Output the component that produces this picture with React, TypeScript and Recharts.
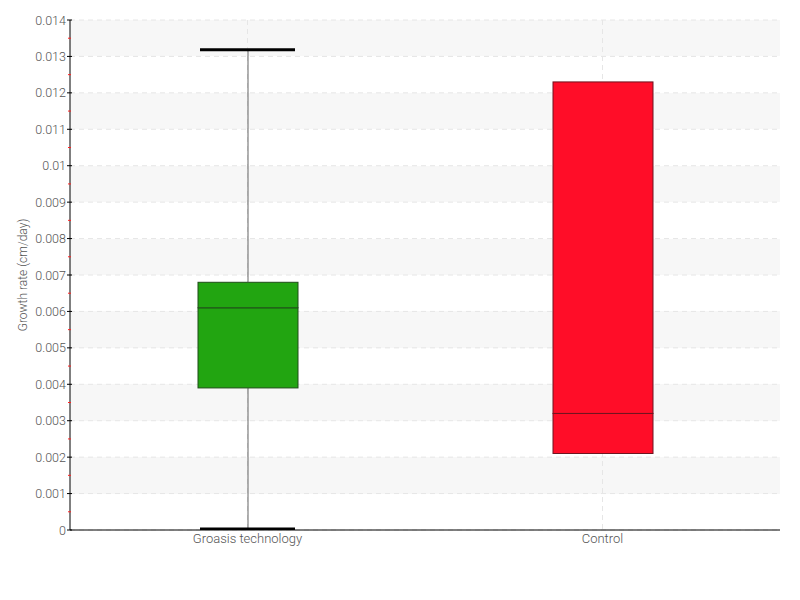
import React from 'react';
import { ComposedChart, Bar, XAxis, YAxis, CartesianGrid } from 'recharts';

const categories = ['Groasis technology', 'Control'];
const minValues = [0.00003, 0.0021];
const q1Values = [0.0039, 0.0021];
const medianValues = [0.0061, 0.0032];
const q3Values = [0.0068, 0.0123];
const maxValues = [0.01318, 0.0123];
const boxColors = ['#22a511', '#ff0d28'];
const boxStrokes = ['#1f4d18', '#6e1420'];

const majorTicks = [0, 0.001, 0.002, 0.003, 0.004, 0.005, 0.006, 0.007, 0.008, 0.009, 0.01, 0.011, 0.012, 0.013, 0.014];
const minorTicks = [0.0005, 0.0015, 0.0025, 0.0035, 0.0045, 0.0055, 0.0065, 0.0075, 0.0085, 0.0095, 0.0105, 0.0115, 0.0125, 0.0135];
const allTicks = [...majorTicks, ...minorTicks].sort((a, b) => a - b);

const data = categories.map((name, i) => ({
  name,
  idx: i,
  base: minValues[i],
  lowWhisker: q1Values[i] - minValues[i],
  boxLow: medianValues[i] - q1Values[i],
  boxHigh: q3Values[i] - medianValues[i],
  highWhisker: maxValues[i] - q3Values[i],
}));

const FONT = 'Roboto, sans-serif';

const EmptyShape = () => <g />;

const LowWhiskerShape = (props: any) => {
  const { x, y, width, height } = props;
  if (!height || height <= 0.5) return <g />;
  const cx = x + width / 2;
  return (
    <g>
      <line x1={cx} x2={cx} y1={y} y2={y + height} stroke="#666" strokeWidth={1} />
      <line x1={x + 2} x2={x + width - 3} y1={y + height} y2={y + height} stroke="#000" strokeWidth={3} />
    </g>
  );
};

const HighWhiskerShape = (props: any) => {
  const { x, y, width, height } = props;
  if (!height || height <= 0.5) return <g />;
  const cx = x + width / 2;
  return (
    <g>
      <line x1={cx} x2={cx} y1={y} y2={y + height} stroke="#666" strokeWidth={1} />
      <line x1={x + 2} x2={x + width - 3} y1={y} y2={y} stroke="#000" strokeWidth={3} />
    </g>
  );
};

const BoxShape = (props: any) => {
  const { x, y, width, height, payload } = props;
  if (!height || height <= 0) return <g />;
  const i = payload.idx;
  return (
    <rect x={x} y={y} width={width} height={height} fill={boxColors[i]} stroke={boxStrokes[i]} strokeWidth={1} />
  );
};

const YTick = (props: any) => {
  const { x, y, payload } = props;
  const v = payload.value;
  const isMajor = majorTicks.some((t) => Math.abs(t - v) < 1e-9);
  const axisX = x + 5;
  if (!isMajor) {
    return <line x1={axisX - 2} x2={axisX + 1} y1={y} y2={y} stroke="#ff2020" strokeWidth={1} />;
  }
  return (
    <g>
      <line x1={axisX - 3} x2={axisX + 2} y1={y} y2={y} stroke="#000" strokeWidth={1} />
      <text x={axisX - 4} y={y} textAnchor="end" dominantBaseline="central" fontFamily={FONT} fontSize={12.5} fontWeight={300} fill="#555">
        {String(v)}
      </text>
    </g>
  );
};

const YLabel = (props: any) => {
  const vb = props.viewBox || { y: 20, height: 510 };
  const cy = vb.y + vb.height / 2;
  return (
    <text x={23} y={cy} transform={`rotate(-90, 23, ${cy})`} textAnchor="middle" dominantBaseline="central" fontFamily={FONT} fontSize={12} fontWeight={300} fill="#555">
      Growth rate (cm/day)
    </text>
  );
};

export default function App() {
  return (
    <div style={{ position: 'absolute', left: 0, top: 0, width: 800, height: 600, background: '#fff' }}>
      <ComposedChart width={800} height={600} data={data} margin={{ top: 20, right: 20, bottom: 40, left: 0 }}>
        <CartesianGrid
          strokeDasharray="5 4"
          stroke="#e6e6e6"
          horizontalValues={majorTicks}
          verticalValues={categories}
          horizontalFill={['#f7f7f7', '#ffffff']}
          fillOpacity={1}
        />
        <XAxis
          dataKey="name"
          height={30}
          axisLine={{ stroke: '#000' }}
          tickLine={false}
          tickSize={2}
          tickMargin={2}
          tick={{ fontFamily: FONT, fontSize: 13, fontWeight: 300, fill: '#555' }}
        />
        <YAxis
          width={70}
          domain={[0, 0.014]}
          ticks={allTicks}
          interval={0}
          tickLine={false}
          tickSize={3}
          tickMargin={2}
          axisLine={{ stroke: '#000' }}
          tick={<YTick />}
          label={<YLabel />}
          allowDataOverflow
        />
        <Bar dataKey="base" stackId="a" barSize={100} shape={<EmptyShape />} isAnimationActive={false} />
        <Bar dataKey="lowWhisker" stackId="a" barSize={100} shape={<LowWhiskerShape />} isAnimationActive={false} />
        <Bar dataKey="boxLow" stackId="a" barSize={100} shape={<BoxShape />} isAnimationActive={false} />
        <Bar dataKey="boxHigh" stackId="a" barSize={100} shape={<BoxShape />} isAnimationActive={false} />
        <Bar dataKey="highWhisker" stackId="a" barSize={100} shape={<HighWhiskerShape />} isAnimationActive={false} />
      </ComposedChart>
    </div>
  );
}
